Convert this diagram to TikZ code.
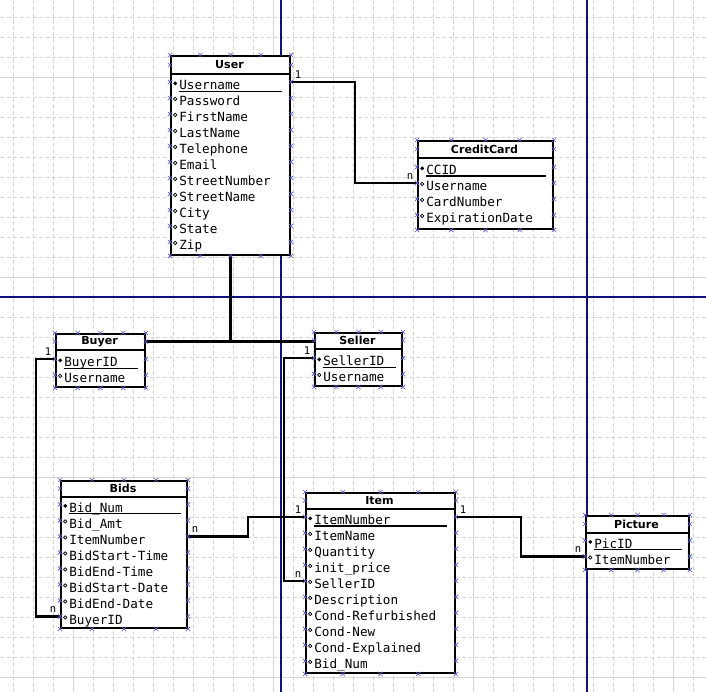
\documentclass[tikz,border=0pt]{standalone}
\usepackage{fontspec}
\setmonofont{DejaVu Sans Mono}
\setsansfont{DejaVu Sans}
\usepackage{xcolor}
\usepackage{tikz}
\definecolor{gridgray}{HTML}{D6D6D6}
\definecolor{pagebreak}{HTML}{10107A}
\definecolor{cptblue}{HTML}{5A5AC8}
\usetikzlibrary{calc}

\newcommand{\px}{0.02cm}
\tikzset{
	table/.style={draw, line width=1.1pt, fill=white, anchor=north west, inner sep=0pt},
	titel/.style={font=\sffamily\bfseries\fontsize{6.3}{7}\selectfont, inner sep=0pt},
	attr/.style={font=\ttfamily\fontsize{7.2}{8}\selectfont, anchor=base west, inner sep=0pt, text height=2ex, text depth=0pt},
	trenner/.style={line width=1.1pt},
	keyline/.style={line width=0.6pt},
	conn/.style={line width=1.4pt},
	card/.style={font=\ttfamily\fontsize{6}{7}\selectfont, inner sep=1.5pt},
	gridline/.style={gridgray, line width=0.4pt, dash pattern=on 2.3pt off 1.4pt},
	gridmajor/.style={gridgray, line width=0.4pt},
	cpt/.pic={\draw[cptblue, line width=0.35pt] (-2.2,-2.2) -- (2.2,2.2) (-2.2,2.2) -- (2.2,-2.2);}
}

\begin{document}
\begin{tikzpicture}[x=0.02cm, y=-0.02cm]
		\useasboundingbox (0,0) rectangle (706,692);

		%Raster im Hintergrund
		\foreach \gx in {13,33,...,693} \draw[gridline] (\gx,0) -- (\gx,692);
		\foreach \gy in {17,37,...,677} \draw[gridline] (0,\gy) -- (706,\gy);
		\foreach \gx in {73,273,473,673} \draw[gridmajor] (\gx,0) -- (\gx,692);
		\foreach \gy in {77,277,477,677} \draw[gridmajor] (0,\gy) -- (706,\gy);

		%Seitenumbrueche
		\draw[pagebreak, line width=0.6pt] (281,0) -- (281,692);
		\draw[pagebreak, line width=0.6pt] (587,0) -- (587,692);
		\draw[pagebreak, line width=0.6pt] (0,297) -- (706,297);

		%Tabelle User
		\node[table, minimum width=119*\px, minimum height=199*\px] (user) at (170,55) {};
		\node[titel] (user-t) at (229.5,65) {User};
		\draw[trenner] (170,74) -- (289,74);
		\node[attr] (user-1) at (179,89.5) {Username};
		\node[attr] (user-2) at (179,105.5) {Password};
		\node[attr] (user-3) at (179,121.5) {FirstName};
		\node[attr] (user-4) at (179,137.5) {LastName};
		\node[attr] (user-5) at (179,153.5) {Telephone};
		\node[attr] (user-6) at (179,169.5) {Email};
		\node[attr] (user-7) at (179,185.5) {StreetNumber};
		\node[attr] (user-8) at (179,201.5) {StreetName};
		\node[attr] (user-9) at (179,217.5) {City};
		\node[attr] (user-10) at (179,233.5) {State};
		\node[attr] (user-11) at (179,249.5) {Zip};
		\draw[keyline] (179,91.7) -- (282,91.7);

		%Tabelle CreditCard
		\node[table, minimum width=135*\px, minimum height=88*\px] (card) at (417,140) {};
		\node[titel] (card-t) at (484.5,149) {CreditCard};
		\draw[trenner] (417,158) -- (552,158);
		\node[attr] (card-1) at (426,174.5) {CCID};
		\node[attr] (card-2) at (426,190.5) {Username};
		\node[attr] (card-3) at (426,206.5) {CardNumber};
		\node[attr] (card-4) at (426,222.5) {ExpirationDate};
		\draw[keyline] (426,176) -- (546,176);

		%Tabelle Buyer
		\node[table, minimum width=89*\px, minimum height=53*\px] (buyer) at (55,333) {};
		\node[titel] (buyer-t) at (99.5,341.5) {Buyer};
		\draw[trenner] (55,350) -- (144,350);
		\node[attr] (buyer-1) at (64,366.5) {BuyerID};
		\node[attr] (buyer-2) at (64,382.5) {Username};
		\draw[keyline] (64,368.4) -- (138,368.4);

		%Tabelle Seller
		\node[table, minimum width=87*\px, minimum height=53*\px] (seller) at (314,332) {};
		\node[titel] (seller-t) at (357.5,340.5) {Seller};
		\draw[trenner] (314,349) -- (401,349);
		\node[attr] (seller-1) at (323,365.5) {SellerID};
		\node[attr] (seller-2) at (323,381.5) {Username};
		\draw[keyline] (323,367.2) -- (396,367.2);

		%Tabelle Bids
		\node[table, minimum width=126*\px, minimum height=147*\px] (bids) at (60,480) {};
		\node[titel] (bids-t) at (123,488.5) {Bids};
		\draw[trenner] (60,497) -- (186,497);
		\node[attr] (bids-1) at (69,512) {Bid\_Num};
		\node[attr] (bids-2) at (69,528) {Bid\_Amt};
		\node[attr] (bids-3) at (69,544) {ItemNumber};
		\node[attr] (bids-4) at (69,560) {BidStart-Time};
		\node[attr] (bids-5) at (69,576) {BidEnd-Time};
		\node[attr] (bids-6) at (69,592) {BidStart-Date};
		\node[attr] (bids-7) at (69,608) {BidEnd-Date};
		\node[attr] (bids-8) at (69,624) {BuyerID};
		\draw[keyline] (69,513.5) -- (181,513.5);

		%Tabelle Item
		\node[table, minimum width=149*\px, minimum height=180*\px] (item) at (305,492) {};
		\node[titel] (item-t) at (379.5,500.5) {Item};
		\draw[trenner] (305,509) -- (454,509);
		\node[attr] (item-1) at (314,524.5) {ItemNumber};
		\node[attr] (item-2) at (314,540.5) {ItemName};
		\node[attr] (item-3) at (314,556.5) {Quantity};
		\node[attr] (item-4) at (314,572.5) {init\_price};
		\node[attr] (item-5) at (314,588.5) {SellerID};
		\node[attr] (item-6) at (314,604.5) {Description};
		\node[attr] (item-7) at (314,620.5) {Cond-Refurbished};
		\node[attr] (item-8) at (314,636.5) {Cond-New};
		\node[attr] (item-9) at (314,652.5) {Cond-Explained};
		\node[attr] (item-10) at (314,668.5) {Bid\_Num};
		\draw[keyline] (314,526) -- (447,526);

		%Tabelle Picture
		\node[table, minimum width=103*\px, minimum height=53*\px] (pic) at (585,515) {};
		\node[titel] (pic-t) at (636.5,524) {Picture};
		\draw[trenner] (585,533) -- (688,533);
		\node[attr] (pic-1) at (594,548) {PicID};
		\node[attr] (pic-2) at (594,564) {ItemNumber};
		\draw[keyline] (594,549.5) -- (682,549.5);

		%Beziehungen
		\draw[conn] (user.east |- user-1) node[card, above right] {1} -- ++(64,0) |- (card.west |- card-2) node[card, above left] {n};
		\draw[conn] (user.south) |- (buyer.east |- buyer-t);
		\draw[conn] (user.south) |- (seller.west |- buyer-t);
		\draw[conn] (buyer.west |- buyer-1) node[card, above left] {1} -- ++(-19,0) |- (bids.west |- bids-8) node[card, above left] {n};
		\draw[conn] (seller.west |- seller-1) node[card, above left] {1} -- ++(-30,0) |- (item.west |- item-5) node[card, above left] {n};
		\draw[conn] (bids.east |- bids-3) node[card, above right] {n} -- ++(60,0) |- (item.west |- item-1) node[card, above left] {1};
		\draw[conn] (item.east |- item-1) node[card, above right] {1} -- ++(65,0) |- (pic.west |- pic-2) node[card, above left] {n};

		%Verbindungspunkte und Attributmarken
		\foreach \t/\n in {user/11,card/4,buyer/2,seller/2,bids/8,item/10,pic/2} {
			\foreach \f in {0,0.25,0.5,0.75,1} {
				\pic at ($(\t.north west)!\f!(\t.north east)$) {cpt};
				\pic at ($(\t.south west)!\f!(\t.south east)$) {cpt};
			}
			\pic at (\t.west |- \t-t) {cpt};
			\pic at (\t.east |- \t-t) {cpt};
			\foreach \i in {1,...,\n} {
				\pic at (\t.west |- \t-\i) {cpt};
				\pic at (\t.east |- \t-\i) {cpt};
				\ifnum\i=1
					\fill ($(\t.west |- \t-\i)+(3.2,1.5)$) -- ++(2,-2) -- ++(2,2) -- ++(-2,2) -- cycle;
				\else
					\draw[line width=0.4pt] ($(\t.west |- \t-\i)+(5.2,1)$) circle (0.95pt);
				\fi
			}
		}
\end{tikzpicture}
\end{document}
